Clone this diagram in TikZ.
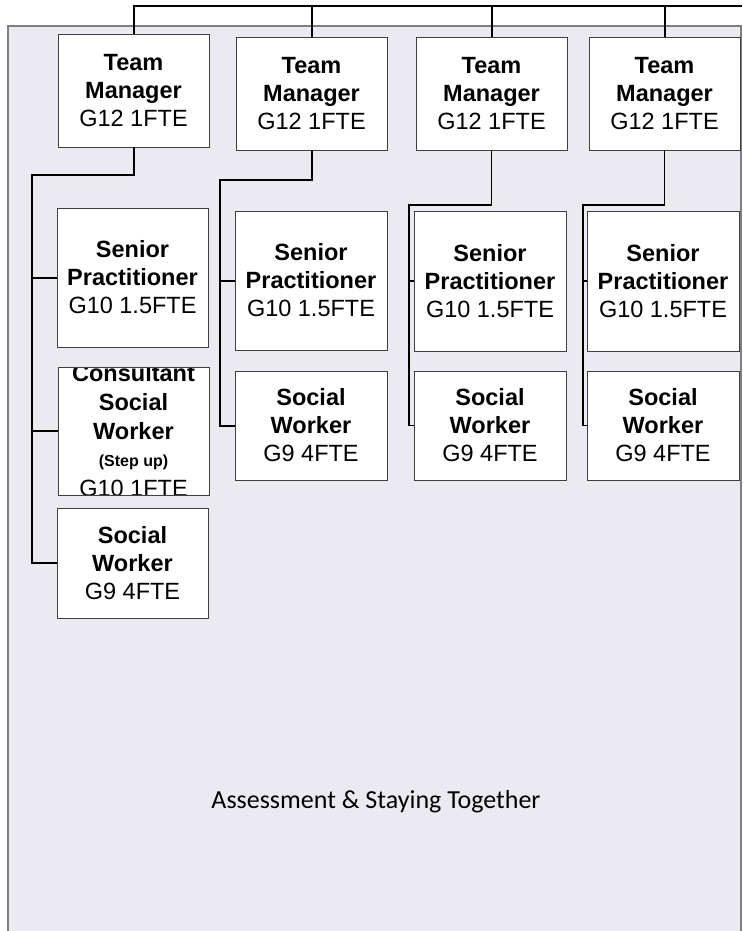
\documentclass[tikz,border=0pt]{standalone}
\usepackage{fontspec}
\setmainfont{Liberation Sans}
\newfontfamily\footfont{Carlito}
\definecolor{panelfill}{HTML}{ECEAF1}
\definecolor{panelline}{HTML}{7F7F7F}
\definecolor{boxline}{HTML}{3F3F3F}
\begin{document}
\begin{tikzpicture}[x=1pt,y=-1pt,
  orgbox/.style={draw=boxline,line width=0.9pt,fill=white,inner sep=0pt,outer sep=0pt,
    align=center,font=\fontsize{23.5}{28}\selectfont},
  csline/.style={anchor=base,inner sep=0pt,font=\fontsize{23.5}{28}\selectfont\bfseries},
  link/.style={draw=black,line width=2pt},
  thinlink/.style={draw=black,line width=1.5pt}]
\useasboundingbox (0,0) rectangle (742,931);
% panel
\fill[panelfill] (8,26) rectangle (741,931);
\draw[panelline,line width=1.5pt] (8,931) -- (8,26) -- (741,26) -- (741,931);
% team managers
\node[orgbox,minimum width=151pt,minimum height=113pt] (tm1) at (133.5,90.5) {\textbf{Team}\\\textbf{Manager}\\G12 1FTE};
\node[orgbox,minimum width=151pt,minimum height=113pt] (tm2) at (311.5,93.5) {\textbf{Team}\\\textbf{Manager}\\G12 1FTE};
\node[orgbox,minimum width=151pt,minimum height=113pt] (tm3) at (491.5,93.5) {\textbf{Team}\\\textbf{Manager}\\G12 1FTE};
\node[orgbox,minimum width=151pt,minimum height=113pt] (tm4) at (664.5,93.5) {\textbf{Team}\\\textbf{Manager}\\G12 1FTE};
% column 1
\node[orgbox,minimum width=151pt,minimum height=139pt] (sp1) at (132.5,277.5) {\textbf{Senior}\\\textbf{Practitioner}\\G10 1.5FTE};
\node[draw=boxline,line width=0.9pt,fill=white,inner sep=0pt,outer sep=0pt,minimum width=151pt,minimum height=128pt] (csw) at (133.5,431) {};
\begin{scope}
\clip (csw.south west) rectangle (csw.north east);
\node[csline] (csw1) at (133.5,381) {Consultant};
\node[csline] (csw2) at (133.5,410) {Social};
\node[csline] (csw3) at (133.5,439) {Worker};
\node[anchor=base,inner sep=0pt,font=\fontsize{16}{19}\selectfont\bfseries] (csw4) at (133.5,466) {(Step up)};
\node[anchor=base,inner sep=0pt,font=\fontsize{23.5}{28}\selectfont] (csw5) at (133.5,496.5) {G10 1FTE};
\end{scope}
\draw[boxline,line width=0.9pt] (csw.south west) rectangle (csw.north east);
\node[orgbox,minimum width=151pt,minimum height=110pt] (sw1) at (132.5,563) {\textbf{Social}\\\textbf{Worker}\\G9 4FTE};
% column 2
\node[orgbox,minimum width=152pt,minimum height=139pt] (sp2) at (311,280.5) {\textbf{Senior}\\\textbf{Practitioner}\\G10 1.5FTE};
\node[orgbox,minimum width=152pt,minimum height=109pt] (sw2) at (311,425.5) {\textbf{Social}\\\textbf{Worker}\\G9 4FTE};
% column 3
\node[orgbox,minimum width=152pt,minimum height=140pt] (sp3) at (490,281) {\textbf{Senior}\\\textbf{Practitioner}\\G10 1.5FTE};
\node[orgbox,minimum width=152pt,minimum height=109pt] (sw3) at (490,425.5) {\textbf{Social}\\\textbf{Worker}\\G9 4FTE};
% column 4
\node[orgbox,minimum width=152pt,minimum height=140pt] (sp4) at (663,281) {\textbf{Senior}\\\textbf{Practitioner}\\G10 1.5FTE};
\node[orgbox,minimum width=152pt,minimum height=109pt] (sw4) at (663,425.5) {\textbf{Social}\\\textbf{Worker}\\G9 4FTE};
% top connector
\coordinate (topend) at (742,6);
\draw[link] (tm1.north) |- (topend);
\draw[link] (tm2.north) -- (tm2.north |- topend);
\draw[link] (tm3.north) -- (tm3.north |- topend);
\draw[link] (tm4.north) -- (tm4.north |- topend);
% team 1
\coordinate (t1a) at (133.5,175);
\coordinate (t1b) at (32,175);
\draw[link] (tm1.south) -- (t1a) -- (t1b) |- (sw1.west);
\draw[link] (t1b |- sp1.west) -- (sp1.west);
\draw[link] (t1b |- csw.west) -- (csw.west);
% team 2
\coordinate (t2a) at (311.5,180);
\coordinate (t2b) at (220,180);
\draw[link] (tm2.south) -- (t2a) -- (t2b) |- (sw2.west);
\draw[link] (t2b |- sp2.west) -- (sp2.west);
% team 3
\coordinate (t3a) at (491.5,205);
\coordinate (t3b) at (409,205);
\draw[thinlink] (tm3.south) -- (t3a) -- (t3b) |- (sw3.west);
\draw[thinlink] (t3b |- sp3.west) -- (sp3.west);
% team 4
\coordinate (t4a) at (664.5,205);
\coordinate (t4b) at (583,205);
\draw[thinlink] (tm4.south) -- (t4a) -- (t4b) |- (sw4.west);
\draw[thinlink] (t4b |- sp4.west) -- (sp4.west);
% footer
\node[font=\footfont\fontsize{26}{31}\selectfont,anchor=base] (footer) at (376,808) {Assessment \& Staying Together};
\end{tikzpicture}
\end{document}
